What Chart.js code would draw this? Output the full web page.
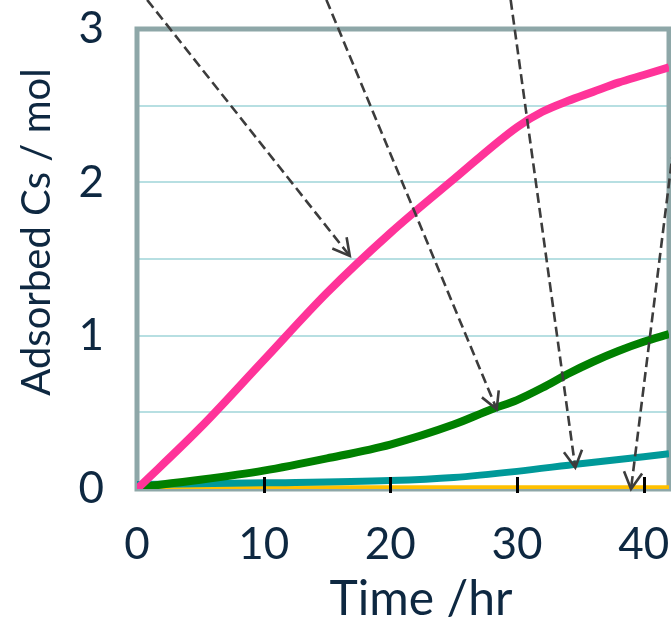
<!DOCTYPE html>
<html>
<head>
<meta charset="utf-8">
<script src="https://cdn.jsdelivr.net/npm/chart.js@4.4.0/dist/chart.umd.min.js"></script>
<style>
  html, body { margin: 0; padding: 0; background: #fff; }
  #wrap { width: 671px; height: 621px; }
</style>
</head>
<body>
<div id="wrap"><canvas id="chart" width="671" height="621"></canvas></div>
<script>
// ── Data ────────────────────────────────────────────────
const pinkTime   = [0, 5, 10, 15, 20, 25, 30, 32, 34, 36, 38, 40, 42];
const pinkCs     = [0, 0.40, 0.84, 1.28, 1.67, 2.02, 2.36, 2.46, 2.53, 2.59, 2.65, 2.70, 2.75];

const greenTime  = [0, 5, 10, 15, 20, 25, 28, 30, 32, 34, 36, 38, 40, 42];
const greenCs    = [0.01, 0.06, 0.12, 0.20, 0.29, 0.42, 0.52, 0.58, 0.66, 0.75, 0.83, 0.90, 0.96, 1.01];

const tealTime   = [0, 10, 20, 25, 30, 35, 40, 42];
const tealCs     = [0.03, 0.04, 0.055, 0.075, 0.115, 0.165, 0.21, 0.23];

const yellowTime = [0, 10, 20, 30, 40, 42];
const yellowCs   = [0.005, 0.005, 0.005, 0.005, 0.005, 0.005];

const xTickLabels = [0, 10, 20, 30, 40];
const xTickMarks  = [10, 20, 30, 40];

// dashed arrows, in data units (time, Cs)
const arrowFromX = [0.8, 14.95, 29.5, 43.8];
const arrowFromY = [3.19, 3.19, 3.19, 3.19];
const arrowToX   = [16.8, 28.4, 34.6, 39.0];
const arrowToY   = [1.52, 0.52, 0.14, 0.0];

const xTitle = 'Time /hr';
const yTitle = 'Adsorbed Cs / mol';

// ── Styles ──────────────────────────────────────────────
const FONT = 'Lato, "Open Sans", sans-serif';
const TEXT = '#0e2841';
const FRAME = '#8ea7a8';
const GRID = '#b7dfe2';

const pts = (xs, ys) => xs.map((x, i) => ({ x, y: ys[i] }));

const line = (label, xs, ys, color, width) => ({
  label,
  data: pts(xs, ys),
  borderColor: color,
  backgroundColor: color,
  borderWidth: width,
  pointRadius: 0,
  cubicInterpolationMode: 'monotone',
  fill: false
});

// frame around the plot + black tick marks + arrows + axis titles
const decor = {
  id: 'decor',
  beforeDatasetsDraw(chart) {
    const { ctx, chartArea: a } = chart;
    ctx.save();
    ctx.strokeStyle = FRAME;
    ctx.lineWidth = 5;
    ctx.strokeRect(a.left, a.top, a.right - a.left, a.bottom - a.top);
    ctx.restore();
  },
  afterDatasetsDraw(chart) {
    const { ctx, chartArea: a, scales: { x, y } } = chart;
    ctx.save();
    // tick marks across the bottom axis
    ctx.strokeStyle = '#000';
    ctx.lineWidth = 3;
    xTickMarks.forEach(t => {
      const px = Math.round(x.getPixelForValue(t)) + 0.5;
      ctx.beginPath();
      ctx.moveTo(px, a.bottom - 12);
      ctx.lineTo(px, a.bottom + 4);
      ctx.stroke();
    });

    // arrows
    ctx.strokeStyle = '#3c3c3c';
    ctx.lineWidth = 2.6;
    arrowFromX.forEach((fx, i) => {
      const x0 = x.getPixelForValue(fx), y0 = y.getPixelForValue(arrowFromY[i]);
      const x1 = x.getPixelForValue(arrowToX[i]), y1 = y.getPixelForValue(arrowToY[i]);
      ctx.setLineDash([10, 5]);
      ctx.beginPath();
      ctx.moveTo(x0, y0);
      ctx.lineTo(x1, y1);
      ctx.stroke();
      // open arrow head
      const ang = Math.atan2(y1 - y0, x1 - x0);
      const len = 19, spread = 0.5;
      ctx.setLineDash([]);
      ctx.beginPath();
      ctx.moveTo(x1 - len * Math.cos(ang - spread), y1 - len * Math.sin(ang - spread));
      ctx.lineTo(x1, y1);
      ctx.lineTo(x1 - len * Math.cos(ang + spread), y1 - len * Math.sin(ang + spread));
      ctx.stroke();
    });
    ctx.restore();
  },
  afterDraw(chart) {
    const { ctx } = chart;
    ctx.save();
    ctx.fillStyle = TEXT;
    ctx.textAlign = 'center';
    ctx.textBaseline = 'alphabetic';
    ctx.font = '48px ' + FONT;
    ctx.fillText(xTitle, 421, 615);
    ctx.font = '40px ' + FONT;
    ctx.translate(50, 232);
    ctx.rotate(-Math.PI / 2);
    ctx.fillText(yTitle, 0, 0);
    ctx.restore();
  }
};

new Chart(document.getElementById('chart'), {
  type: 'line',
  data: {
    datasets: [
      line('Pink', pinkTime, pinkCs, '#ff3399', 8),
      line('Green', greenTime, greenCs, '#008000', 8),
      line('Teal', tealTime, tealCs, '#009999', 7),
      line('Yellow', yellowTime, yellowCs, '#ffc000', 6)
    ]
  },
  options: {
    responsive: false,
    animation: false,
    layout: { autoPadding: false, padding: { top: 29, right: 2, left: 0, bottom: 0 } },
    plugins: {
      legend: { display: false },
      tooltip: { enabled: false },
      title: { display: false }
    },
    scales: {
      x: {
        type: 'linear',
        min: 0,
        max: 42,
        afterFit: s => {
          s.height = 132;
          s.paddingLeft = 0; s.paddingRight = 0;
        },
        afterBuildTicks: s => { s.ticks = xTickLabels.map(v => ({ value: v })); },
        grid: { display: false },
        border: { display: false },
        ticks: {
          padding: 21,
          color: TEXT,
          font: { family: FONT, size: 44 },
          maxRotation: 0,
          autoSkip: false
        }
      },
      y: {
        min: 0,
        max: 3,
        afterFit: s => {
          s.width = 137;
          s.paddingTop = 0; s.paddingBottom = 0;
        },
        grid: { color: GRID, lineWidth: 2, drawTicks: false },
        border: { display: false },
        ticks: {
          stepSize: 0.5,
          padding: 33,
          color: TEXT,
          font: { family: FONT, size: 44 },
          callback: v => Number.isInteger(v) ? String(v) : ''
        }
      }
    }
  },
  plugins: [decor]
});
</script>
</body>
</html>
